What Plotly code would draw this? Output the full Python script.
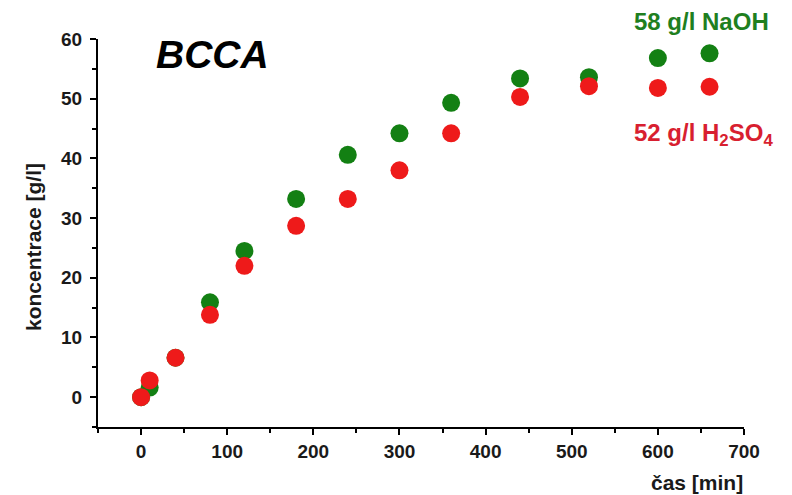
import plotly.graph_objects as go

# Data
time_naoh = [0, 10, 40, 80, 120, 180, 240, 300, 360, 440, 520, 600, 660]
conc_naoh = [0.0, 1.6, 6.6, 15.9, 24.5, 33.2, 40.6, 44.2, 49.3, 53.4, 53.6, 56.8, 57.6]

time_h2so4 = [0, 10, 40, 80, 120, 180, 240, 300, 360, 440, 520, 600, 660]
conc_h2so4 = [0.0, 2.8, 6.6, 13.8, 22.0, 28.7, 33.2, 38.0, 44.2, 50.3, 52.1, 51.8, 52.0]

label_naoh = "58 g/l NaOH"
label_h2so4 = "52 g/l H<sub>2</sub>SO<sub>4</sub>"
title_text = "BCCA"
x_title = "čas [min]"
y_title = "koncentrace [g/l]"

GREEN = "#138013"
RED = "#ee1a1a"
FONT = "Liberation Sans, Arial, sans-serif"

fig = go.Figure()
fig.add_trace(go.Scatter(x=time_naoh, y=conc_naoh, mode="markers", name=label_naoh,
                         marker=dict(size=18, color=GREEN)))
fig.add_trace(go.Scatter(x=time_h2so4, y=conc_h2so4, mode="markers", name=label_h2so4,
                         marker=dict(size=18, color=RED)))

axis_common = dict(showline=True, linecolor="black", linewidth=2, ticks="outside",
                   tickwidth=2, ticklen=6, tickcolor="black", showgrid=False, zeroline=False,
                   tickfont=dict(family=FONT, size=19, color="#1a1a1a", weight="bold"),
                   )
fig.update_xaxes(range=[-50, 700], tick0=0, dtick=100,
                 minor=dict(ticks="outside", dtick=50, ticklen=4, tickwidth=2, tickcolor="black"),
                 **axis_common)
fig.update_yaxes(range=[-5, 60], tick0=0, dtick=10, ticklabelstandoff=4,
                 minor=dict(ticks="outside", dtick=5, ticklen=4, tickwidth=2, tickcolor="black"),
                 **axis_common)

fig.update_layout(
    width=792, height=495,
    margin=dict(l=90, r=56, t=31, b=76),
    paper_bgcolor="white", plot_bgcolor="white",
    showlegend=False,
    font=dict(family=FONT),
    annotations=[
        dict(text=f"<b><i>{title_text}</i></b>", x=0.1765, y=0.959, xref="paper", yref="paper",
             xanchor="center", yanchor="middle",
             showarrow=False, font=dict(size=39, color="black", family=FONT)),
        dict(text=f"<b>{label_naoh}</b>", x=0.8266, y=1.046, xref="paper", yref="paper",
             xanchor="left", yanchor="middle", showarrow=False,
             font=dict(size=24, color="#1f7f1f", family=FONT)),
        dict(text=f"<b>{label_h2so4}</b>", x=0.8266, y=0.753, xref="paper", yref="paper",
             xanchor="left", yanchor="middle", showarrow=False,
             font=dict(size=24, color="#d81f30", family=FONT)),
        dict(text=f"<b>{x_title}</b>", x=0.927, y=-0.142, xref="paper", yref="paper",
             xanchor="center", yanchor="middle",
             showarrow=False, font=dict(size=21, color="#1a1a1a", family=FONT)),
        dict(text=f"<b>{y_title}</b>", x=-0.099, y=0.464, xref="paper", yref="paper",
             xanchor="center", yanchor="middle",
             textangle=-90, showarrow=False, font=dict(size=21, color="#1a1a1a", family=FONT)),
    ],
)

fig.write_html("out.html")
